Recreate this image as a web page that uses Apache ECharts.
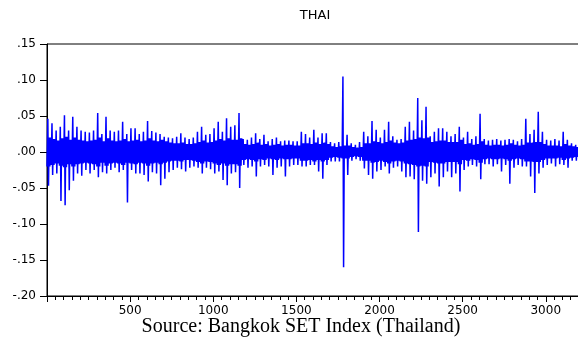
<!DOCTYPE html>
<html>
<head>
<meta charset="utf-8">
<script src="https://cdn.jsdelivr.net/npm/echarts@6/dist/echarts.min.js"></script>
<style>
  html, body { margin: 0; padding: 0; background: #fff; }
  #chart { width: 578px; height: 337px; }
</style>
</head>
<body>
<div id="chart"></div>
<script>
// envelope of daily returns, read per block of 25 observations
const binSize = 25;
const highs = [
  .046, .040, .030, .035, .051, .030, .049, .035, .030, .028, .027, .030, .054, .025, .049, .030, .028, .030, .042, .025, .033,
  .033, .025, .028, .043, .029, .027, .025, .021, .020, .019, .021, .026, .020, .018, .020, .028, .035, .024, .025, .033,
  .042, .028, .047, .035, .037, .054, .018, .017, .020, .026, .018, .024, .015, .018, .020, .015, .016, .016, .015, .015,
  .028, .025, .020,
  .031, .020, .026, .026, .014, .012, .014, .105, .024, .012, .010, .014, .028, .022, .043, .031, .020, .031, .042, .022,
  .017, .018, .035, .042, .030, .075, .044, .063, .022, .028, .033, .033, .028, .022, .025, .035, .020, .028, .018, .022,
  .053, .018, .016, .017, .018, .016, .017, .018, .017, .015, .018, .046, .025, .031, .056, .028, .017, .016, .018, .016,
  .028, .017, .012, .010
];
const lows = [
  -.047, -.032, -.030, -.068, -.074, -.053, -.040, -.030, -.033, -.025, -.030, -.025, -.035, -.028, -.030, -.025, -.022, -.028, -.025, -.070, -.025,
  -.030, -.030, -.032, -.041, -.028, -.030, -.046, -.037, -.028, -.025, -.022, -.024, -.027, -.022, -.020, -.022, -.030, -.022, -.024, -.030,
  -.027, -.039, -.046, -.030, -.028, -.050, -.018, -.022, -.020, -.034, -.020, -.018, -.020, -.032, -.022, -.020, -.034, -.020, -.018, -.018,
  -.020, -.020, -.018,
  -.018, -.027, -.037, -.018, -.013, -.013, -.013, -.160, -.032, -.012, -.010, -.012, -.023, -.032, -.037, -.027, -.025, -.020, -.030, -.022,
  -.020, -.027, -.035, -.034, -.038, -.111, -.040, -.044, -.035, -.030, -.048, -.035, -.027, -.035, -.030, -.055, -.025, -.020, -.018, -.020,
  -.038, -.017, -.017, -.020, -.017, -.027, -.018, -.044, -.022, -.018, -.020, -.020, -.034, -.057, -.030, -.022, -.018, -.016, -.020, -.017,
  -.018, -.022, -.012, -.012
];
// half-width of the dense core band, same blocks of 25
const core = [
  .020, .018, .016, .019, .021, .017, .020, .017, .016, .015, .016, .017, .020, .015, .019, .016, .015, .016, .018, .015, .016,
  .017, .015, .016, .019, .016, .015, .017, .015, .013, .012, .012, .013, .011, .011, .012, .014, .016, .013, .014, .016,
  .018, .016, .019, .017, .017, .019, .011, .010, .011, .013, .010, .011, .009, .010, .011, .009, .010, .010, .009, .009,
  .012, .012, .011,
  .013, .011, .013, .011, .008, .007, .008, .009, .009, .007, .006, .007, .012, .012, .015, .014, .012, .014, .016, .013,
  .012, .013, .016, .017, .018, .020, .019,
  .020, .014, .015, .016, .016, .014, .014, .014, .017, .011, .012, .010, .011, .015, .010, .009, .010, .010, .009, .010,
  .012, .010, .009, .010, .013, .013, .014, .014, .011, .009, .009, .009, .008, .011, .009, .008, .007
];

const xMin = 0, xMax = 3200, xStep = 500, xMinorSplit = 10;
const yMin = -0.20, yMax = 0.15, yStep = 0.05;

const series = [];
highs.forEach((h, k) => {
  const x0 = k * binSize;
  const c = core[k];
  series.push(
    [x0, -c], [x0 + 5, h], [x0 + 9, lows[k]],
    [x0 + 13, c], [x0 + 17, -c], [x0 + 21, c]
  );
});

const chart = echarts.init(document.getElementById("chart"));

const yFmt = (v) => {
  const s = (Math.round(v * 100) / 100).toFixed(2);
  return s.replace("0.", ".");
};

const labelFont = { color: "#000", fontFamily: "DejaVu Sans", fontSize: 12 };

chart.setOption({
  animation: false,
  backgroundColor: "#fff",
  grid: {
    left: 47,
    top: 44,
    width: 532,
    height: 252,
    outerBoundsMode: "none",
    show: true,
    borderColor: "#000",
    borderWidth: 1,
  },
  xAxis: {
    type: "value",
    min: xMin,
    max: xMax,
    interval: xStep,
    axisLine: { show: true, onZero: false, lineStyle: { color: "#000", width: 1 } },
    axisTick: { show: true, length: 6, lineStyle: { color: "#000", width: 1 } },
    minorTick: { show: true, splitNumber: xMinorSplit, length: 4, lineStyle: { color: "#000", width: 1 } },
    splitLine: { show: false },
    axisLabel: {
      ...labelFont,
      margin: 9,
      showMaxLabel: false,
      formatter: (v) => (v === 0 ? "" : String(v)),
    },
  },
  yAxis: {
    type: "value",
    min: yMin,
    max: yMax,
    interval: yStep,
    axisLine: { show: true, onZero: false, lineStyle: { color: "#000", width: 1 } },
    axisTick: { show: true, length: 7, lineStyle: { color: "#000" } },
    splitLine: { show: false },
    axisLabel: { ...labelFont, margin: 11, formatter: yFmt },
  },
  graphic: [
    {
      type: "text",
      x: 315,
      y: 16,
      style: {
        text: "THAI",
        fill: "#000",
        font: "13px 'DejaVu Sans'",
        align: "center",
        verticalAlign: "middle",
      },
    },
    {
      type: "text",
      x: 301,
      y: 327,
      style: {
        text: "Source: Bangkok SET Index (Thailand)",
        fill: "#000",
        font: "20px 'Liberation Serif'",
        align: "center",
        verticalAlign: "middle",
      },
    },
  ],
  series: [
    {
      type: "line",
      data: series,
      symbol: "none",
      clip: true,
      lineStyle: { color: "#0000ff", width: 1.5 },
    },
  ],
});
</script>
</body>
</html>
